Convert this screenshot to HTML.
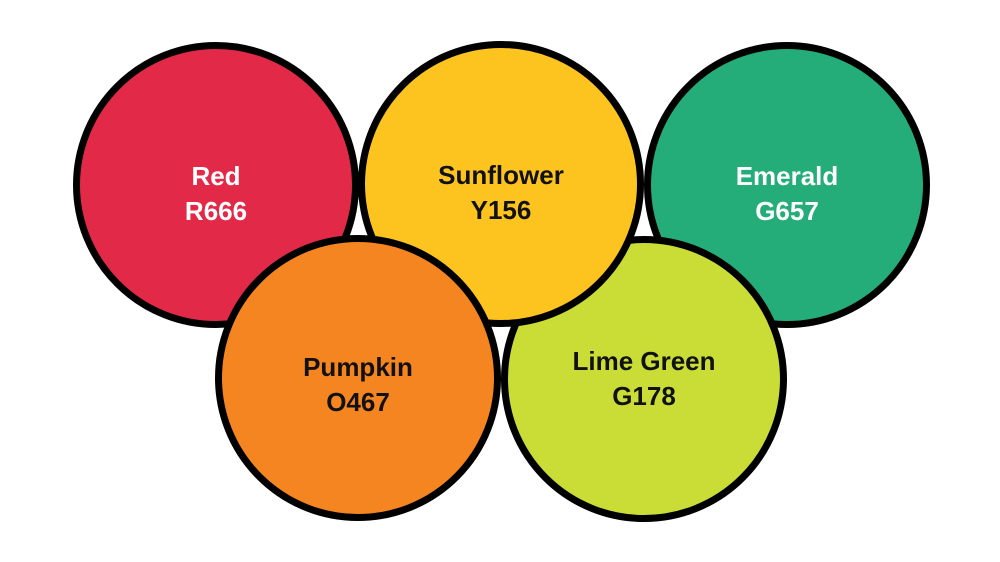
<!DOCTYPE html>
<html><head><style>
body{margin:0;width:1000px;height:562px;background:#fff;overflow:hidden;position:relative;font-family:"Liberation Sans",sans-serif}
.c{position:absolute;width:272px;height:272px;border:7px solid #000;border-radius:50%;display:flex;align-items:center;justify-content:center;text-align:center;font-weight:bold;font-size:26px;line-height:35px;box-sizing:content-box}
.c span{position:relative;top:9px}
</style></head><body>
<div class="c" style="left:73px;top:42px;background:#e22a48;color:#fff;z-index:1"><span>Red<br>R666</span></div>
<div class="c" style="left:644px;top:42px;background:#24ad78;color:#fff;z-index:2"><span>Emerald<br>G657</span></div>
<div class="c" style="left:501px;top:236px;background:#cadd37;color:#111;z-index:3"><span style="top:0px">Lime Green<br>G178</span></div>
<div class="c" style="left:358px;top:41px;background:#fdc41f;color:#111;z-index:4"><span>Sunflower<br>Y156</span></div>
<div class="c" style="left:215px;top:235px;background:#f58520;color:#111;z-index:5"><span style="top:7px">Pumpkin<br>O467</span></div>
</body></html>
